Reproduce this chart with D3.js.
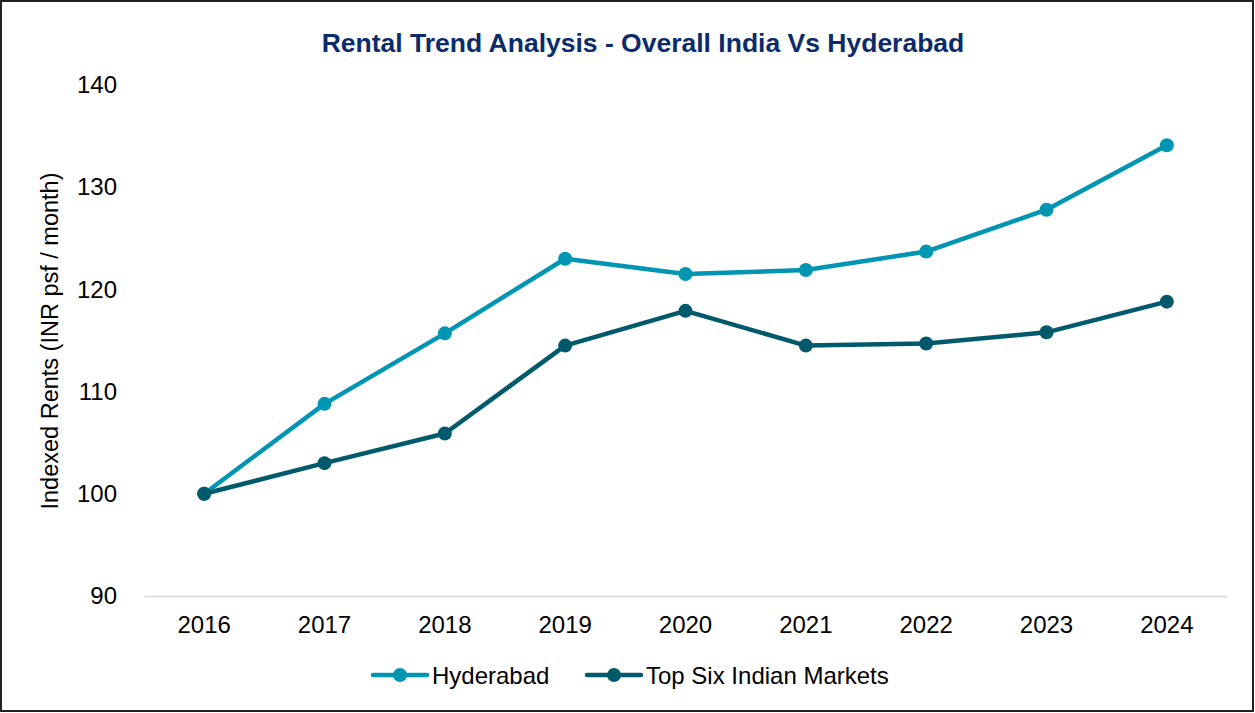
<!DOCTYPE html>
<html>
<head>
<meta charset="utf-8">
<script src="https://cdn.jsdelivr.net/npm/d3@7"></script>
<style>
  body { margin: 0; background: #fff; }
  svg { font-family: "Liberation Sans", Arial, sans-serif; }
</style>
</head>
<body>
<div id="canvas"></div>
<script>
const years = ["2016", "2017", "2018", "2019", "2020", "2021", "2022", "2023", "2024"];
const hyderabad = [100, 108.8, 115.7, 123.0, 121.5, 121.9, 123.7, 127.8, 134.1];
const topSix = [100, 103.0, 105.9, 114.5, 117.9, 114.5, 114.7, 115.8, 118.8];
const yTicks = [90, 100, 110, 120, 130, 140];

const width = 1255;
const height = 713;
const margin = { top: 85, left: 144, bottom: 117, right: 28 };
const iwidth = width - margin.left - margin.right;
const iheight = height - margin.top - margin.bottom;

const svg = d3.select("#canvas").append("svg")
  .attr("width", width)
  .attr("height", height);

// outer frame
svg.append("rect")
  .attr("x", 1).attr("y", 1)
  .attr("width", width - 3).attr("height", height - 3)
  .attr("fill", "#fff")
  .attr("stroke", "#222")
  .attr("stroke-width", 2);

svg.append("text")
  .attr("x", 643).attr("y", 52)
  .attr("text-anchor", "middle")
  .style("font-size", "26.5px")
  .style("font-weight", "bold")
  .style("fill", "#0c2b6b")
  .text("Rental Trend Analysis - Overall India Vs Hyderabad");

const g = svg.append("g")
  .attr("transform", `translate(${margin.left},${margin.top})`);

const x = d3.scaleBand()
  .domain(years)
  .range([0, iwidth]);

const y = d3.scaleLinear()
  .domain([90, 140])
  .range([iheight, 0]);

// y tick labels (no axis line)
const yAxis = g.append("g")
  .call(d3.axisLeft(y).tickValues(yTicks).tickSize(0).tickPadding(27));
yAxis.select(".domain").remove();
yAxis.selectAll("text")
  .style("font-size", "24px")
  .style("font-family", "Liberation Sans, Arial, sans-serif")
  .style("fill", "#000");

// x axis
const xAxis = g.append("g")
  .attr("transform", `translate(0,${iheight})`)
  .call(d3.axisBottom(x).tickSize(0).tickPadding(20));
xAxis.select(".domain").attr("stroke", "#d9d9d9").attr("stroke-width", 1.5);
xAxis.selectAll("text")
  .style("font-size", "24px")
  .style("font-family", "Liberation Sans, Arial, sans-serif")
  .style("fill", "#000");

svg.append("text")
  .attr("transform", `translate(58,341) rotate(-90)`)
  .attr("text-anchor", "middle")
  .style("font-size", "23.5px")
  .style("fill", "#000")
  .text("Indexed Rents (INR psf / month)");

const series = [
  { name: "Hyderabad", values: hyderabad, color: "#0095b3" },
  { name: "Top Six Indian Markets", values: topSix, color: "#005a6b" }
];

const line = d3.line()
  .x((d, i) => x(years[i]) + x.bandwidth() / 2)
  .y(d => y(d));

series.forEach(s => {
  g.append("path")
    .datum(s.values)
    .attr("fill", "none")
    .attr("stroke", s.color)
    .attr("stroke-width", 4.5)
    .attr("stroke-linejoin", "round")
    .attr("d", line);
  g.selectAll(null)
    .data(s.values)
    .enter()
    .append("circle")
    .attr("cx", (d, i) => x(years[i]) + x.bandwidth() / 2)
    .attr("cy", d => y(d))
    .attr("r", 7)
    .attr("fill", s.color);
});

// legend
const legendX = [373, 587];
series.forEach((s, i) => {
  const lg = svg.append("g").attr("transform", `translate(${legendX[i]},675)`);
  lg.append("line")
    .attr("x1", 0).attr("x2", 54)
    .attr("stroke", s.color)
    .attr("stroke-width", 4.5)
    .attr("stroke-linecap", "round");
  lg.append("circle").attr("cx", 27).attr("r", 7).attr("fill", s.color);
  lg.append("text")
    .attr("x", 59).attr("y", 8.5)
    .style("font-size", "24px")
    .style("fill", "#000")
    .text(s.name);
});
</script>
</body>
</html>
